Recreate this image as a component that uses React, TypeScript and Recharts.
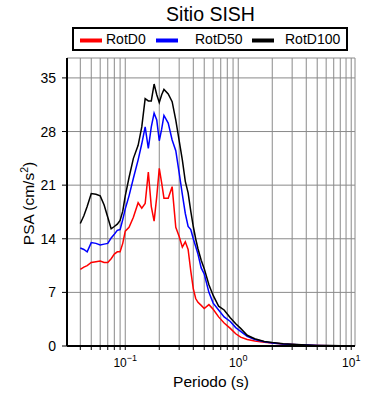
import React from 'react';
import { LineChart, Line, XAxis, YAxis, CartesianGrid, Legend } from 'recharts';

const periods = [0.04, 0.043, 0.046, 0.05, 0.055, 0.06, 0.065, 0.07, 0.075, 0.08, 0.085, 0.09, 0.095, 0.1, 0.108, 0.118, 0.13, 0.14, 0.15, 0.16, 0.17, 0.18, 0.19, 0.2, 0.21, 0.22, 0.24, 0.26, 0.28, 0.3, 0.32, 0.34, 0.36, 0.38, 0.4, 0.42, 0.44, 0.47, 0.5, 0.55, 0.6, 0.67, 0.75, 0.85, 0.95, 1.05, 1.2, 1.4, 1.7, 2, 2.5, 3, 4, 5, 6.5, 8, 10];

const rotD0 = [10.0, 10.3, 10.5, 10.9, 11.0, 11.1, 10.9, 10.9, 11.4, 12.0, 12.3, 12.3, 13.4, 15.0, 15.5, 16.8, 18.7, 18.0, 18.6, 22.7, 18.2, 16.3, 19.5, 23.2, 21.3, 19.3, 19.3, 20.8, 15.5, 14.3, 12.9, 13.6, 12.6, 9.8, 7.5, 6.2, 5.7, 5.3, 4.9, 5.4, 4.8, 3.8, 3.0, 2.3, 1.6, 1.15, 0.85, 0.65, 0.5, 0.38, 0.26, 0.19, 0.11, 0.07, 0.04, 0.03, 0.02];

const rotD50 = [12.8, 12.6, 12.3, 13.5, 13.4, 13.2, 13.3, 13.4, 14.1, 14.6, 15.1, 15.2, 16.5, 17.9, 19.6, 21.9, 24.3, 26.4, 28.6, 25.8, 28.6, 30.4, 29.5, 26.8, 28.3, 30.1, 29.1, 26.9, 25.5, 22.6, 19.8, 17.3, 15.6, 15.2, 14.0, 13.0, 12.0, 10.2, 9.4, 7.0, 5.6, 4.7, 3.8, 3.2, 2.4, 1.9, 1.25, 0.85, 0.55, 0.4, 0.27, 0.2, 0.12, 0.07, 0.04, 0.03, 0.02];

const rotD100 = [16.0, 17.0, 18.2, 19.9, 19.8, 19.6, 18.4, 16.8, 15.3, 15.6, 15.9, 16.4, 17.6, 19.6, 22.0, 24.5, 26.2, 28.6, 32.3, 32.0, 32.0, 34.2, 32.8, 31.8, 32.8, 33.5, 32.9, 31.9, 29.5, 26.8, 24.3, 21.5, 20.0, 17.6, 15.6, 14.0, 12.7, 11.2, 10.1, 8.0, 6.6, 5.2, 4.7, 3.7, 2.9, 2.3, 1.4, 0.95, 0.6, 0.45, 0.3, 0.22, 0.13, 0.08, 0.05, 0.03, 0.02];

const seriesNames = ['RotD0', 'RotD50', 'RotD100'];
const seriesKeys = ['d0', 'd50', 'd100'];
const seriesColors = ['#ff0000', '#0000ff', '#000000'];

const xGridTicks = [0.04, 0.05, 0.06, 0.07, 0.08, 0.09, 0.1, 0.2, 0.3, 0.4, 0.5, 0.6, 0.7, 0.8, 0.9, 1, 2, 3, 4, 5, 6, 7, 8, 9, 10];
const xMajorTicks = [0.1, 1, 10];
const xMajorExponents = ['\u22121', '0', '1'];
const yTicks = [0, 7, 14, 21, 28, 35];

const titleText = 'Sitio SISH';
const xTitle = 'Periodo (s)';
const yTitleMain = 'PSA (cm/s';
const yTitleSup = '2';

const data = periods.map((T, i) => ({ T, d0: rotD0[i], d50: rotD50[i], d100: rotD100[i] }));

const FONT = '"Liberation Sans", Arial, Helvetica, sans-serif';
const X_DOMAIN = [0.0305, 10.8];
const Y_DOMAIN = [0, 37.6];

const XTick = (props: any) => {
  const { x, y, payload } = props;
  const idx = xMajorTicks.findIndex((v) => Math.abs(v - payload.value) < 1e-9);
  if (idx < 0) return <g />;
  return (
    <text x={x} y={y + 13} textAnchor="middle" fontSize={12} fill="#000" fontFamily={FONT}>
      <tspan>10</tspan>
      <tspan dy={-6} fontSize={9}>{xMajorExponents[idx]}</tspan>
    </text>
  );
};

const LegendBox = () => (
  <svg width={276} height={24} style={{ display: 'block' }}>
    <rect x={1} y={1} width={274} height={22} fill="#fff" stroke="#000" strokeWidth={2} />
    {seriesNames.map((name, i) => {
      const lx = [8, 84, 180][i];
      const tx = [34, 123, 213][i];
      return (
        <g key={name}>
          <line x1={lx} x2={lx + 22} y1={13.5} y2={13.5} stroke={seriesColors[i]} strokeWidth={4} />
          <text x={tx} y={17} fontSize={14} fontFamily={FONT} fill="#000">{name}</text>
        </g>
      );
    })}
  </svg>
);

export default function App() {
  return (
    <div style={{ position: 'absolute', left: 0, top: 0, width: 390, height: 400, background: '#fff' }}>
      <LineChart width={390} height={400} data={data} margin={{ top: 58, right: 35, bottom: 24, left: 0 }}>
        <CartesianGrid stroke="#8a8a8a" strokeWidth={1} />
        <XAxis
          dataKey="T"
          type="number"
          scale="log"
          domain={X_DOMAIN}
          allowDataOverflow
          ticks={xGridTicks}
          interval={0}
          height={30}
          tickSize={4}
          tickMargin={4}
          tick={<XTick />}
          tickLine={{ stroke: '#000', strokeWidth: 1 }}
          axisLine={{ stroke: '#000', strokeWidth: 2 }}
        />
        <XAxis
          xAxisId="top"
          orientation="top"
          dataKey="T"
          type="number"
          scale="log"
          domain={X_DOMAIN}
          allowDataOverflow
          ticks={xGridTicks}
          interval={0}
          height={0}
          tickSize={4}
          tick={false}
          tickLine={{ stroke: '#000', strokeWidth: 1 }}
          axisLine={{ stroke: '#000', strokeWidth: 2 }}
        />
        <YAxis
          type="number"
          domain={Y_DOMAIN}
          allowDataOverflow
          ticks={yTicks}
          interval={0}
          width={67}
          tickSize={5}
          tickMargin={6}
          tick={{ fontSize: 14, fill: '#000', fontFamily: FONT }}
          tickLine={{ stroke: '#000', strokeWidth: 1 }}
          axisLine={{ stroke: '#000', strokeWidth: 2 }}
        />
        <YAxis
          yAxisId="right"
          orientation="right"
          type="number"
          domain={Y_DOMAIN}
          allowDataOverflow
          ticks={yTicks}
          interval={0}
          width={0}
          tickSize={4}
          tick={false}
          tickLine={{ stroke: '#000', strokeWidth: 1 }}
          axisLine={{ stroke: '#000', strokeWidth: 2 }}
        />
        <Legend
          layout="vertical"
          align="center"
          verticalAlign="middle"
          wrapperStyle={{ position: 'absolute', left: 72, top: 27, width: 276, height: 24 }}
          content={() => <LegendBox />}
        />
        {seriesKeys.map((k, i) => (
          <Line
            key={k}
            type="linear"
            dataKey={k}
            name={seriesNames[i]}
            stroke={seriesColors[i]}
            strokeWidth={1.5}
            dot={false}
            activeDot={false}
            isAnimationActive={false}
          />
        ))}
      </LineChart>
      <svg width={390} height={400} style={{ position: 'absolute', left: 0, top: 0, pointerEvents: 'none' }}>
        <text x={210.5} y={21} textAnchor="middle" fontSize={19.5} fontFamily={FONT} fill="#000">{titleText}</text>
        <text x={211} y={387} textAnchor="middle" fontSize={15.5} fontFamily={FONT} fill="#000">{xTitle}</text>
        <text x={33.5} y={203.5} transform="rotate(-90, 33.5, 203.5)" textAnchor="middle" fontSize={15.5} fontFamily={FONT} fill="#000">
          <tspan>{yTitleMain}</tspan>
          <tspan dy={-6} fontSize={10.5}>{yTitleSup}</tspan>
          <tspan dy={6}>)</tspan>
        </text>
      </svg>
    </div>
  );
}
